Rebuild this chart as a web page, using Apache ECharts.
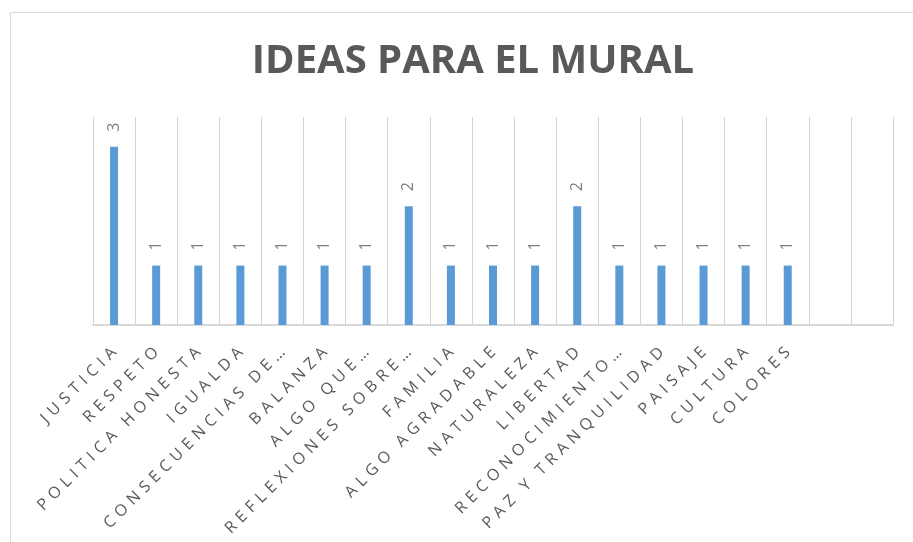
<!DOCTYPE html>
<html>
<head>
<meta charset="utf-8">
<script src="https://cdn.jsdelivr.net/npm/echarts@6/dist/echarts.min.js"></script>
<style>
  html, body { margin: 0; padding: 0; background: #fff; }
  #main { width: 913px; height: 542px; }
</style>
</head>
<body>
<div id="main"></div>
<script>
// datos
const categorias = ['JUSTICIA', 'RESPETO', 'POLITICA HONESTA', 'IGUALDA', 'CONSECUENCIAS DE…',
  'BALANZA', 'ALGO QUE…', 'REFLEXIONES SOBRE…', 'FAMILIA', 'ALGO AGRADABLE', 'NATURALEZA',
  'LIBERTAD', 'RECONOCIMIENTO…', 'PAZ Y TRANQUILIDAD', 'PAISAJE', 'CULTURA', 'COLORES', '', ''];
const valores = [3, 1, 1, 1, 1, 1, 1, 2, 1, 1, 1, 2, 1, 1, 1, 1, 1, null, null];
const titulo = 'IDEAS PARA EL MURAL';

// espaciado entre letras como en Excel
const espaciar = (txt, sep) => txt.split('').join(sep);

const chart = echarts.init(document.getElementById('main'));

const option = {
  animation: false,
  title: {
    text: titulo,
    left: 468,
    top: 37,
    textAlign: 'center',
    textStyle: {
      fontFamily: 'Open Sans',
      fontWeight: 'bold',
      fontSize: 40,
      color: '#595959'
    }
  },
  graphic: [{
    type: 'rect',
    shape: { x: 10.5, y: 12.5, width: 930, height: 560 },
    style: { fill: 'none', stroke: '#d9d9d9', lineWidth: 1 },
    silent: true
  }],
  grid: { left: 93, right: 20, top: 117, bottom: 217 },
  xAxis: {
    type: 'category',
    data: categorias,
    boundaryGap: true,
    axisTick: { show: false },
    axisLine: { lineStyle: { color: '#d9d9d9', width: 2 } },
    splitLine: { show: true, lineStyle: { color: '#d4d4d4', width: 1 } },
    axisLabel: {
      interval: 0,
      rotate: 45,
      margin: 25,
      fontFamily: 'Open Sans',
      fontSize: 16,
      color: '#595959',
      formatter: (v) => espaciar(v.replace(/ /g, '\u2009'), '\u2009\u2009')
    }
  },
  yAxis: {
    type: 'value',
    min: 0,
    max: 3.5,
    axisLabel: { show: false },
    axisLine: { show: false },
    axisTick: { show: false },
    splitLine: { show: false }
  },
  series: [{
    type: 'bar',
    data: valores,
    barWidth: 8,
    itemStyle: { color: '#5b9bd5' },
    label: {
      show: true,
      position: 'top',
      rotate: 90,
      align: 'left',
      verticalAlign: 'middle',
      distance: 15,
      fontFamily: 'Open Sans',
      fontSize: 16,
      color: '#7f7f7f'
    }
  }]
};

chart.setOption(option);
</script>
</body>
</html>
